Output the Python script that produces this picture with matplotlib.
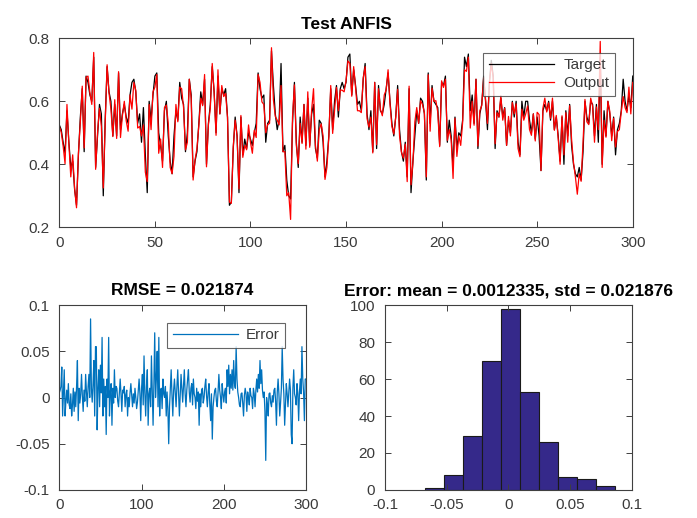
import numpy as np
import matplotlib
matplotlib.use("Agg")
import matplotlib.pyplot as plt
from matplotlib.ticker import FuncFormatter

plt.rcParams['font.family'] = ['Liberation Sans', 'DejaVu Sans']
plt.rcParams['axes.unicode_minus'] = False

# ---------------- data ----------------
target = [
    0.525, 0.51, 0.47, 0.435, 0.57, 0.47, 0.39, 0.41, 0.32, 0.27,
    0.43, 0.55, 0.64, 0.44, 0.68, 0.66, 0.62, 0.60, 0.74, 0.39,
    0.49, 0.59, 0.56, 0.30, 0.54, 0.71, 0.63, 0.60, 0.49, 0.59,
    0.49, 0.69, 0.51, 0.56, 0.59, 0.55, 0.53, 0.62, 0.66, 0.67,
    0.63, 0.53, 0.56, 0.47, 0.58, 0.43, 0.31, 0.60, 0.54, 0.62,
    0.68, 0.69, 0.50, 0.46, 0.41, 0.57, 0.60, 0.49, 0.41, 0.37,
    0.49, 0.57, 0.54, 0.66, 0.61, 0.59, 0.44, 0.50, 0.67, 0.62,
    0.36, 0.41, 0.44, 0.53, 0.63, 0.59, 0.67, 0.40, 0.53, 0.59,
    0.71, 0.63, 0.50, 0.68, 0.56, 0.64, 0.62, 0.64, 0.55, 0.27,
    0.28, 0.45, 0.55, 0.49, 0.31, 0.55, 0.43, 0.48, 0.45, 0.50,
    0.48, 0.46, 0.50, 0.53, 0.69, 0.64, 0.61, 0.62, 0.47, 0.53,
    0.54, 0.76, 0.65, 0.56, 0.51, 0.54, 0.72, 0.44, 0.46, 0.35,
    0.30, 0.29, 0.53, 0.66, 0.47, 0.39, 0.55, 0.47, 0.59, 0.46,
    0.61, 0.46, 0.56, 0.59, 0.45, 0.42, 0.54, 0.53, 0.47, 0.36,
    0.41, 0.49, 0.64, 0.51, 0.60, 0.65, 0.55, 0.64, 0.66, 0.64,
    0.66, 0.74, 0.75, 0.62, 0.70, 0.65, 0.59, 0.60, 0.57, 0.67,
    0.72, 0.56, 0.51, 0.57, 0.44, 0.66, 0.45, 0.65, 0.57, 0.56,
    0.59, 0.64, 0.69, 0.60, 0.53, 0.49, 0.55, 0.65, 0.51, 0.44,
    0.41, 0.47, 0.36, 0.64, 0.31, 0.41, 0.49, 0.57, 0.53, 0.61,
    0.60, 0.56, 0.35, 0.69, 0.53, 0.65, 0.60, 0.59, 0.58, 0.46,
    0.66, 0.65, 0.68, 0.47, 0.54, 0.49, 0.39, 0.55, 0.45, 0.50,
    0.49, 0.54, 0.74, 0.71, 0.75, 0.57, 0.62, 0.53, 0.67, 0.45,
    0.56, 0.59, 0.68, 0.60, 0.51, 0.66, 0.73, 0.68, 0.45, 0.57,
    0.55, 0.61, 0.55, 0.58, 0.46, 0.54, 0.50, 0.60, 0.55, 0.60,
    0.47, 0.43, 0.60, 0.55, 0.60, 0.60, 0.54, 0.50, 0.56, 0.48,
    0.55, 0.49, 0.38, 0.57, 0.59, 0.57, 0.60, 0.54, 0.60, 0.51,
    0.55, 0.49, 0.41, 0.55, 0.40, 0.57, 0.49, 0.59, 0.46, 0.40,
    0.37, 0.36, 0.39, 0.35, 0.44, 0.60, 0.55, 0.53, 0.60, 0.59,
    0.49, 0.59, 0.47, 0.74, 0.40, 0.57, 0.49, 0.60, 0.56, 0.49,
    0.55, 0.43, 0.51, 0.53, 0.57, 0.67, 0.60, 0.57, 0.62, 0.58,
    0.68,
]

error = [
    0.005, 0.008, 0.012, 0.033, -0.020, 0.005, 0.030, -0.020, -0.004, 0.008,
    -0.006, 0.015, -0.008, -0.012, 0.004, -0.020, -0.008, 0.010, -0.015, 0.006,
    -0.010, 0.012, 0.040, -0.025, 0.010, -0.006, 0.004, 0.025, 0.002, -0.015,
    0.008, -0.004, 0.025, 0.006, -0.010, 0.012, 0.025, 0.000, 0.085, 0.010,
    -0.005, 0.015, 0.040, -0.020, 0.055, 0.055, -0.035, 0.010, 0.030, -0.010,
    0.035, 0.005, 0.065, -0.020, 0.020, -0.010, 0.012, -0.040, 0.020, 0.000,
    0.065, -0.020, 0.005, 0.015, -0.030, 0.010, -0.006, 0.030, 0.000, 0.012,
    0.010, -0.004, -0.010, 0.006, 0.020, 0.004, -0.015, 0.008, 0.005, 0.012,
    -0.010, 0.003, 0.008, -0.020, 0.000, -0.010, 0.005, 0.015, 0.002, -0.010,
    0.004, -0.006, 0.010, 0.000, -0.012, -0.005, 0.008, 0.020, 0.004, -0.025,
    0.010, 0.025, -0.008, 0.045, 0.005, -0.020, 0.012, 0.030, -0.030, 0.004,
    0.010, -0.010, 0.045, 0.008, -0.030, 0.015, 0.070, 0.000, 0.020, 0.050,
    -0.010, 0.065, -0.020, 0.008, 0.010, -0.012, 0.020, 0.004, 0.000, 0.012,
    -0.020, 0.006, -0.012, -0.050, -0.010, 0.010, 0.030, 0.002, -0.020, 0.008,
    0.020, 0.004, -0.010, 0.012, 0.030, 0.006, -0.020, 0.004, 0.025, 0.010,
    -0.005, 0.012, 0.030, 0.004, -0.010, 0.008, 0.020, 0.030, 0.006, -0.005,
    0.010, 0.015, -0.008, 0.020, 0.004, 0.000, -0.012, 0.010, -0.004, 0.006,
    -0.030, 0.004, -0.010, 0.008, 0.010, -0.006, 0.000, 0.012, 0.020, 0.002,
    -0.010, 0.006, 0.015, -0.008, -0.025, 0.004, -0.045, -0.010, 0.000, 0.008,
    0.010, -0.004, -0.010, 0.006, 0.025, 0.008, 0.000, -0.012, 0.015, 0.004,
    -0.005, 0.006, 0.010, -0.006, 0.030, 0.012, 0.035, 0.004, 0.025, 0.010,
    0.030, 0.008, 0.040, 0.015, 0.010, 0.055, 0.020, 0.006, 0.000, -0.008,
    -0.010, 0.004, 0.005, -0.006, -0.020, 0.002, 0.010, 0.004, -0.015, 0.006,
    0.000, -0.008, 0.010, 0.002, 0.000, -0.012, 0.010, 0.004, -0.010, 0.008,
    0.020, 0.006, 0.025, 0.010, 0.040, 0.015, 0.030, 0.008, 0.000, 0.006,
    -0.015, -0.068, 0.000, -0.008, -0.020, 0.004, 0.005, -0.006, -0.010, 0.002,
    -0.005, 0.008, 0.010, -0.004, -0.030, 0.006, 0.020, 0.004, -0.020, -0.006,
    0.010, 0.055, 0.020, 0.004, -0.030, -0.006, 0.015, 0.004, -0.010, 0.006,
    0.020, 0.008, -0.040, -0.050, 0.010, 0.030, 0.004, 0.000, -0.008, 0.015,
    0.004, -0.025, 0.006, 0.020, 0.004, 0.055, 0.020, 0.006, -0.025, 0.020,
    0.020,
]

hist_counts = [1, 8, 29, 70, 98, 53, 26, 7, 6, 2]
hist_lo, hist_hi = -0.068, 0.0865

rmse_text = "RMSE = 0.021874"
err_title = "Error: mean = 0.0012335, std = 0.021876"

# ---------------- derived ----------------
target = np.array(target)
error = np.array(error)
output = target - error
x = np.arange(len(target))
edges = np.linspace(hist_lo, hist_hi, len(hist_counts) + 1)

# ---------------- plotting ----------------
GRAY = '#404040'
TXT = '#3a3a3a'
fig = plt.figure(figsize=(6.97, 5.18), dpi=100)

fmt = FuncFormatter(lambda v, p: ('%g' % round(v, 6)))


def style(ax):
    for s in ax.spines.values():
        s.set_color(GRAY)
        s.set_linewidth(0.8)
    ax.tick_params(direction='in', length=4.5, width=0.7, colors=GRAY,
                   labelsize=11, top=True, right=True, labelcolor=TXT)
    ax.tick_params(axis='x', pad=6)
    ax.tick_params(axis='y', pad=7)
    ax.xaxis.set_major_formatter(fmt)
    ax.yaxis.set_major_formatter(fmt)


def style_legend(leg):
    leg.get_frame().set_edgecolor(GRAY)
    leg.get_frame().set_linewidth(0.8)
    for t in leg.get_texts():
        t.set_color(TXT)


TITLE_FS = 12.5

# Top axes
ax1 = fig.add_axes([0.0851, 0.5612, 0.8227, 0.3649])
ax1.plot(x, target, color='black', lw=0.9, label='Target')
ax1.plot(x, output, color='red', lw=0.9, label='Output')
ax1.set_xlim(0, 300)
ax1.set_ylim(0.2, 0.8)
ax1.set_xticks(np.arange(0, 301, 50))
ax1.set_yticks([0.2, 0.4, 0.6, 0.8])
style(ax1)
ax1.set_title('Test ANFIS', fontsize=TITLE_FS, fontweight='bold', pad=7)
leg1 = ax1.legend(loc='upper right', bbox_to_anchor=(0.969, 0.922),
                  fontsize=11, frameon=True, fancybox=False,
                  handlelength=4.3, borderpad=0.35, labelspacing=0.25,
                  handletextpad=0.6, borderaxespad=0.0)
style_legend(leg1)

# Bottom-left axes
ax2 = fig.add_axes([0.0851, 0.0541, 0.354, 0.357])
ax2.plot(x, error, color='#0072BD', lw=0.9, label='Error')
ax2.set_xlim(0, 300)
ax2.set_ylim(-0.1, 0.1)
ax2.set_xticks([0, 100, 200, 300])
ax2.set_yticks([-0.1, -0.05, 0, 0.05, 0.1])
style(ax2)
ax2.set_title(rmse_text, fontsize=TITLE_FS, fontweight='bold', pad=7)
leg2 = ax2.legend(loc='upper right', bbox_to_anchor=(0.915, 0.903),
                  fontsize=11, frameon=True, fancybox=False,
                  handlelength=4.3, borderpad=0.35,
                  handletextpad=0.5, borderaxespad=0.0)
style_legend(leg2)

# Histogram axes
ax3 = fig.add_axes([0.5524, 0.0541, 0.354, 0.357])
ax3.bar(edges[:-1], hist_counts, width=np.diff(edges), align='edge',
        color='#35298a', edgecolor='#1a1a1a', linewidth=0.8)
ax3.set_xlim(-0.1, 0.1)
ax3.set_ylim(0, 100)
ax3.set_xticks([-0.1, -0.05, 0, 0.05, 0.1])
ax3.set_yticks(np.arange(0, 101, 20))
style(ax3)
ax3.set_title(err_title, fontsize=TITLE_FS, fontweight='bold', pad=7)

fig.savefig('out.png', dpi=100)
